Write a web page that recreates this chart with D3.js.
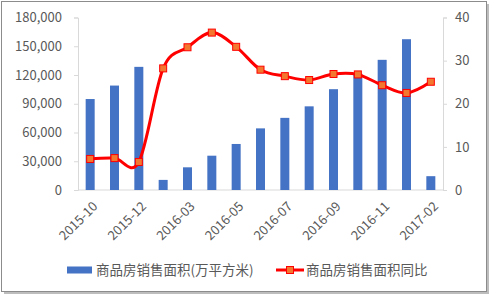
<!DOCTYPE html>
<html>
<head>
<meta charset="utf-8">
<script src="https://cdn.jsdelivr.net/npm/d3@7"></script>
<style>
  body { margin: 0; background: #fff; }
  text { font-family: "Noto Sans CJK SC", "Noto Sans", sans-serif; fill: #595959; }
</style>
</head>
<body>
<svg id="chart" width="492" height="298"></svg>
<script>
// months (Jan 2016 is merged into Feb)
var months = ['2015-10', '2015-11', '2015-12', '2016-02', '2016-03', '2016-04', '2016-05',
    '2016-06', '2016-07', '2016-08', '2016-09', '2016-10', '2016-11', '2016-12', '2017-02'];
// 商品房销售面积 (万平方米), cumulative
var area = [94914, 108980, 128495, 10535, 23669, 35794, 48032,
    64302, 75274, 87298, 105185, 121304, 135829, 157349, 14416];
// 同比 (%)
var yoy = [7.2, 7.4, 6.5, 28.2, 33.1, 36.5, 33.2,
    27.9, 26.4, 25.5, 26.9, 26.8, 24.3, 22.5, 25.1];
var leftTicks = [0, 30000, 60000, 90000, 120000, 150000, 180000];
var rightTicks = [0, 10, 20, 30, 40];
var labelMonths = ['2015-10', '2015-12', '2016-03', '2016-05', '2016-07', '2016-09', '2016-11', '2017-02'];

var svg = d3.select('#chart');

// frame with a soft shadow
svg.append('rect')
    .attr('x', 4).attr('y', 4)
    .attr('width', 485).attr('height', 290)
    .attr('fill', '#bdbdbd');
svg.append('rect')
    .attr('x', 1.5).attr('y', 1.5)
    .attr('width', 485).attr('height', 290)
    .attr('fill', '#fff')
    .attr('stroke', '#8c8c8c');

var plot = { left: 78, right: 443, top: 17.5, bottom: 190 };

var x = d3.scaleBand()
    .domain(months)
    .range([plot.left, plot.right])
    .paddingInner(0.63)
    .paddingOuter(0.315);
var yL = d3.scaleLinear().domain([0, 180000]).range([plot.bottom, plot.top]);
var yR = d3.scaleLinear().domain([0, 40]).range([plot.bottom, plot.top]);

// Left axis
var axL = svg.append('g')
    .attr('transform', `translate(${plot.left},0)`)
    .call(d3.axisLeft(yL).tickValues(leftTicks).tickFormat(d3.format(',')).tickSize(4).tickPadding(12));
// Right axis
var axR = svg.append('g')
    .attr('transform', `translate(${plot.right},0)`)
    .call(d3.axisRight(yR).tickValues(rightTicks).tickSize(4).tickPadding(8));
[axL, axR].forEach(function (g) {
    g.select('.domain').attr('stroke', '#d9d9d9');
    g.selectAll('.tick line').attr('stroke', '#d9d9d9');
    g.selectAll('.tick text').attr('fill', '#595959').style('font-size', '13px');
});

// Bottom baseline
svg.append('line')
    .attr('x1', plot.left).attr('x2', plot.right)
    .attr('y1', plot.bottom).attr('y2', plot.bottom)
    .attr('stroke', '#d9d9d9');

// X labels
svg.append('g').selectAll('text')
    .data(labelMonths)
    .enter().append('text')
    .attr('transform', d => `translate(${x(d) + x.bandwidth() / 2 + 5},${plot.bottom + 14}) rotate(-45)`)
    .attr('text-anchor', 'end')
    .attr('dy', '0.35em')
    .style('font-size', '13px')
    .text(d => d);

// Bars
svg.append('g').selectAll('rect')
    .data(months)
    .enter().append('rect')
    .attr('x', d => x(d))
    .attr('width', x.bandwidth())
    .attr('y', (d, i) => yL(area[i]))
    .attr('height', (d, i) => plot.bottom - yL(area[i]))
    .attr('fill', '#4472c4');

// Line
var line = d3.line()
    .x((d, i) => x(months[i]) + x.bandwidth() / 2)
    .y(d => yR(d))
    .curve(d3.curveCardinal.tension(0));
svg.append('path')
    .attr('d', line(yoy))
    .attr('fill', 'none')
    .attr('stroke', '#ff0000')
    .attr('stroke-width', 3);
svg.append('g').selectAll('rect')
    .data(yoy)
    .enter().append('rect')
    .attr('x', (d, i) => x(months[i]) + x.bandwidth() / 2 - 3.5)
    .attr('y', d => yR(d) - 3.5)
    .attr('width', 7).attr('height', 7)
    .attr('fill', '#f4772f')
    .attr('stroke', '#ff0000')
    .attr('stroke-width', 1);

// Legend
var lg = svg.append('g');
lg.append('rect')
    .attr('x', 67).attr('y', 266.5)
    .attr('width', 25).attr('height', 7)
    .attr('fill', '#4472c4');
lg.append('text')
    .attr('x', 96).attr('y', 270)
    .attr('dy', '0.35em')
    .style('font-size', '13.5px')
    .text('商品房销售面积(万平方米)');
lg.append('line')
    .attr('x1', 276).attr('x2', 304)
    .attr('y1', 270).attr('y2', 270)
    .attr('stroke', '#ff0000').attr('stroke-width', 3);
lg.append('rect')
    .attr('x', 286.5).attr('y', 266.5)
    .attr('width', 7).attr('height', 7)
    .attr('fill', '#f4772f')
    .attr('stroke', '#ff0000');
lg.append('text')
    .attr('x', 306).attr('y', 270)
    .attr('dy', '0.35em')
    .style('font-size', '13.5px')
    .text('商品房销售面积同比');
</script>
</body>
</html>
